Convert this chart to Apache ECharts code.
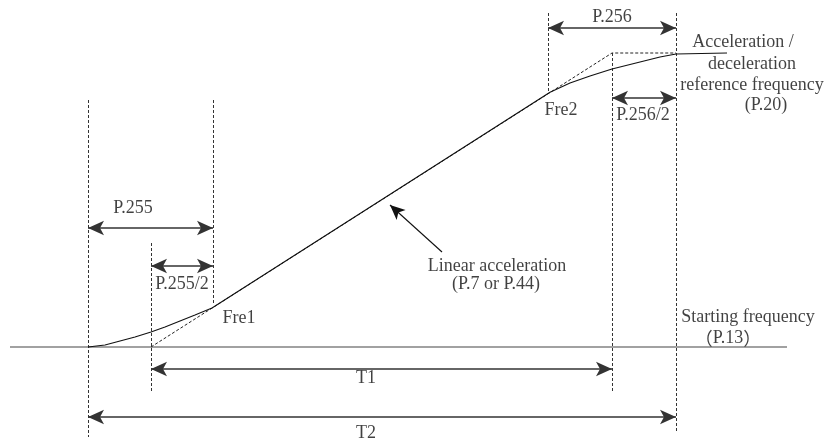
<!DOCTYPE html>
<html>
<head>
<meta charset="utf-8">
<script src="https://cdn.jsdelivr.net/npm/echarts@6/dist/echarts.min.js"></script>
<style>html,body{margin:0;padding:0;background:#fff;}#c{width:825px;height:441px;}</style>
</head>
<body>
<div id="c"></div>
<script>
// Time axis (x) and frequency axis (y, inverted scale units)
const curveX = [88, 105, 120, 135, 151, 165, 180, 195, 212, 550, 570, 590, 612, 640, 660, 676, 727];
const curveY = [347, 345, 341, 337, 332, 327, 321, 315, 308, 92.3, 83, 76, 69, 62, 57, 54, 53];
const rampX = [151, 612, 676];
const rampY = [347, 53, 53];
const baseX = [10, 787];
const baseY = 347;
// vertical dashed guides: x, yTop, yBottom
const guideX = [88, 151, 213, 548, 612, 676];
const guideTop = [100, 243, 100, 13, 53, 13];
const guideBottom = [437, 392, 304, 92, 392, 432];
// double-headed dimension arrows: xFrom, xTo, y
const dimFrom = [88, 151, 151, 88, 548, 612];
const dimTo = [213, 213, 612, 676, 676, 676];
const dimY = [228, 266, 369, 417, 28, 98];
// pointer arrow
const pointerFrom = [442, 252];
const pointerTo = [390, 205];
// text labels
const labelText = ['P.255', 'P.255/2', 'Fre1', 'Linear acceleration', '(P.7 or P.44)',
  'Starting frequency', '（P.13）', 'T1', 'T2', 'P.256', 'Fre2', 'P.256/2',
  'Acceleration /', 'deceleration', 'reference frequency', '(P.20)'];
const labelX = [133, 182, 239, 497, 496, 748, 728, 366, 366, 612, 561, 643, 743, 752, 752, 766];
const labelY = [208, 284, 318, 266, 284, 317, 338, 378, 433, 17, 110, 115, 42, 64, 85, 105];

const chart = echarts.init(document.getElementById('c'), null, {renderer: 'canvas'});
const FONT = '"Liberation Serif", serif';
const dash = [3, 2];

const guideData = guideX.map((x, i) => ({coords: [[x, guideTop[i]], [x, guideBottom[i]]]}));
const dimData = dimFrom.map((x, i) => ({coords: [[x, dimY[i]], [dimTo[i], dimY[i]]]}));

chart.setOption({
  animation: false,
  backgroundColor: '#fff',
  grid: {left: 0, right: 0, top: 0, bottom: 0},
  xAxis: {type: 'value', min: 0, max: 825, show: false},
  yAxis: {type: 'value', min: 0, max: 441, inverse: true, show: false},
  series: [
    {
      type: 'line', data: baseX.map(x => [x, baseY]), symbol: 'none',
      lineStyle: {color: '#444', width: 1.2}
    },
    {
      type: 'line', data: rampX.map((x, i) => [x, rampY[i]]), symbol: 'none',
      lineStyle: {color: '#222', width: 1, type: dash}
    },
    {
      type: 'line', data: curveX.map((x, i) => [x, curveY[i]]), symbol: 'none',
      lineStyle: {color: '#111', width: 1.1}
    },
    {
      type: 'lines', coordinateSystem: 'cartesian2d', data: guideData,
      symbol: ['none', 'none'],
      lineStyle: {color: '#333', width: 1, type: dash, opacity: 1}
    },
    {
      type: 'lines', coordinateSystem: 'cartesian2d', data: dimData,
      symbol: ['arrow', 'arrow'], symbolSize: [[11, 16], [11, 16]],
      lineStyle: {color: '#333', width: 1.5, opacity: 1},
      itemStyle: {color: '#111'}
    },
    {
      type: 'lines', coordinateSystem: 'cartesian2d',
      data: [{coords: [pointerFrom, pointerTo]}],
      symbol: ['none', 'arrow'], symbolSize: [[10, 15], [10, 15]],
      lineStyle: {color: '#111', width: 1.1, opacity: 1},
      itemStyle: {color: '#111'}
    },
    {
      type: 'scatter', symbolSize: 1, itemStyle: {color: 'rgba(0,0,0,0)'},
      data: labelText.map((t, i) => ({name: t, value: [labelX[i], labelY[i]]})),
      label: {
        show: true, position: 'inside',
        formatter: p => p.name.replace(/[（）]/g, m => '{c|' + m + '}'),
        fontFamily: FONT, fontSize: 18, color: '#111',
        rich: {c: {fontFamily: '"Noto Sans CJK SC"', fontSize: 18, color: '#111'}}
      }
    }
  ]
});
</script>
</body>
</html>
